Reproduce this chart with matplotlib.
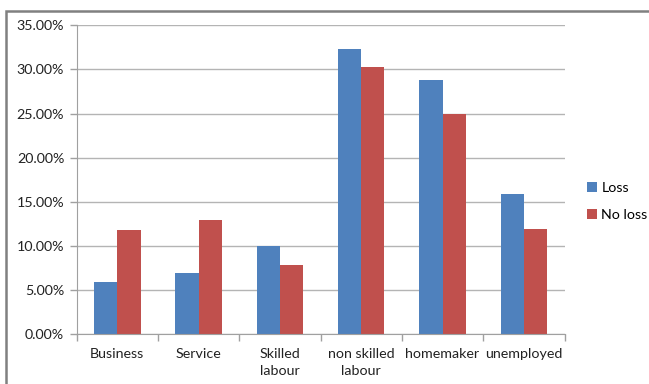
import matplotlib.pyplot as plt
import numpy as np
from matplotlib.patches import Rectangle
from matplotlib.ticker import FuncFormatter, FixedLocator

plt.rcParams['font.family'] = ['Lato', 'DejaVu Sans']

# Data
categories = ["Business", "Service", "Skilled\nlabour", "non skilled\nlabour", "homemaker", "unemployed"]
loss = [5.9, 6.9, 10.0, 32.3, 28.8, 15.9]
no_loss = [11.8, 12.9, 7.9, 30.3, 25.0, 11.9]
series_names = ["Loss", "No loss"]

blue = "#4F81BD"
red = "#C0504D"
grid_grey = "#B4B4B4"
axis_grey = "#A0A0A0"

fig = plt.figure(figsize=(6.49, 3.84), dpi=100)
ax = fig.add_axes([0.1182, 0.1294, 0.7516, 0.8046])

x = np.arange(len(categories))
w = 0.2857
ax.bar(x - w / 2, loss, w, color=blue, label=series_names[0], zorder=3)
ax.bar(x + w / 2, no_loss, w, color=red, label=series_names[1], zorder=3)

ax.set_xlim(-0.5, len(categories) - 0.5)
ax.set_ylim(0, 35)
ax.set_yticks(np.arange(0, 36, 5))
ax.yaxis.set_major_formatter(FuncFormatter(lambda v, p: "%.2f%%" % v))
ax.grid(axis="y", color=grid_grey, linewidth=1.0, zorder=0)

# category labels centred, ticks at boundaries
ax.set_xticks(x)
ax.set_xticklabels(categories, fontsize=10.3, color="#222222", linespacing=1.5)
ax.tick_params(axis="x", length=0, pad=10)
ax.xaxis.set_minor_locator(FixedLocator(np.arange(-0.5, len(categories), 1)))
ax.tick_params(axis="x", which="minor", length=5, color=axis_grey, width=1)
ax.tick_params(axis="y", length=5, color=axis_grey, width=1, labelsize=10.3, labelcolor="#222222", pad=4)

for s in ["top", "right"]:
    ax.spines[s].set_visible(False)
ax.spines["left"].set_color(axis_grey)
ax.spines["bottom"].set_color(axis_grey)
ax.spines["bottom"].set_zorder(4)

leg = ax.legend(loc="center left", bbox_to_anchor=(1.02, 0.43), frameon=False,
                fontsize=10.3, handlelength=0.7, handleheight=0.7, handletextpad=0.3,
                labelspacing=1.0)

# outer chart border
fig.patches.append(Rectangle((6 / 649, -0.1), 1.2, 1.1 - 11 / 384,
                             transform=fig.transFigure, fill=False,
                             edgecolor="#808080", linewidth=1.8))

fig.savefig("out.png", dpi=100)
